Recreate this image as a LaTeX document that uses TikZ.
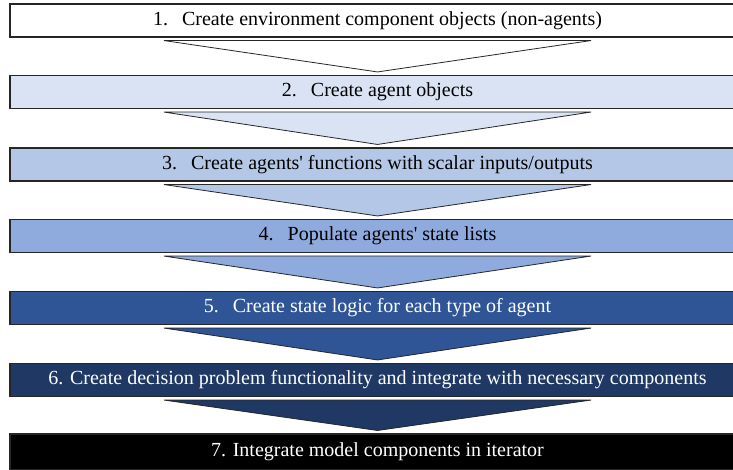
\documentclass[tikz,border=0pt]{standalone}
\usepackage{fontspec}
\setmainfont{Liberation Serif}
\usepackage{tikz}
\usetikzlibrary{calc,positioning}
\tikzset{
  stagebar/.style = {draw=black!85, line width=1.1pt, minimum width=735pt, minimum height=33pt,
  inner sep=0pt, text centered, font=\fontsize{20}{23}\selectfont},
  stagetri/.style = {draw=black!85, line width=0.8pt, line join=miter}
}
\definecolor{stage_1}{RGB}{255, 255, 255}
\definecolor{stage_2}{RGB}{218, 227, 243}
\definecolor{stage_3}{RGB}{180, 199, 231}
\definecolor{stage_4}{RGB}{143, 170, 220}
\definecolor{stage_5}{RGB}{47, 85, 151}
\definecolor{stage_6}{RGB}{32, 56, 100}
\definecolor{stage_7}{RGB}{0, 0, 0}
\newcommand{\stepgap}{\hspace{0.7em}}

\begin{document}
\begin{tikzpicture}[x=1pt,y=-1pt]
    \useasboundingbox (0,0) rectangle (733,469);
    \clip (0,0) rectangle (733,469);
    % stages
    \node [stagebar, fill=stage_1] (s1) at (377.5,20.5) {1.\stepgap Create environment component objects (non-agents)};
    \node [stagebar, fill=stage_2] (s2) at (377.5,92) {2.\stepgap Create agent objects};
    \node [stagebar, fill=stage_3] (s3) at (377.5,164.5) {3.\stepgap Create agents\textquotesingle{} functions with scalar inputs/outputs};
    \node [stagebar, fill=stage_4] (s4) at (377.5,236) {4.\stepgap Populate agents\textquotesingle{} state lists};
    \node [stagebar, fill=stage_5, text=white] (s5) at (377.5,308) {5.\stepgap Create state logic for each type of agent};
    \node [stagebar, fill=stage_6, text=white] (s6) at (377.5,380) {6. Create decision problem functionality and integrate with necessary components};
    \node [stagebar, fill=stage_7, text=white, minimum height=36pt] (s7) at (377.5,452) {7. Integrate model components in iterator};
    % arrows between stages
    \foreach \a/\b/\col in {s1/s2/stage_1, s2/s3/stage_2, s3/s4/stage_3, s4/s5/stage_4, s5/s6/stage_5, s6/s7/stage_6}
      \filldraw [stagetri, fill=\col] ($(\a.south)+(-213.5,3)$) -- ($(\a.south)+(213.5,3)$) -- ($(\b.north)+(0,-3)$) -- cycle;
\end{tikzpicture}
\end{document}
